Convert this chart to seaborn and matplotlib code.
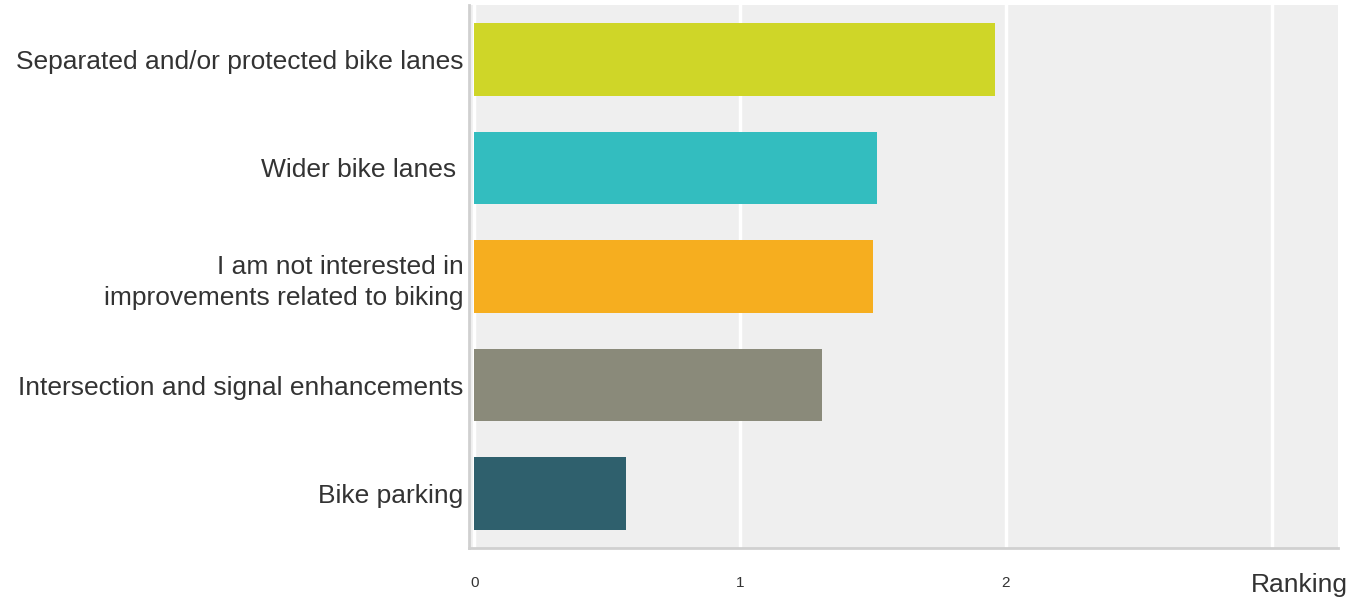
import matplotlib
matplotlib.use("Agg")
import matplotlib.pyplot as plt
import seaborn as sns
import pandas as pd

categories = [
    "Separated and/or protected bike lanes",
    "Wider bike lanes ",
    "I am not interested in\nimprovements related to biking",
    "Intersection and signal enhancements",
    "Bike parking",
]
values = [1.96, 1.515, 1.50, 1.31, 0.57]
colors = ["#cfd628", "#33bdbf", "#f6ae1f", "#8a8a7a", "#2f606d"]
xticks = [0, 1, 2]
xlabel = "Ranking"

sns.set_theme(style="white")
plt.rcParams["font.family"] = ["Liberation Sans", "DejaVu Sans"]

df = pd.DataFrame({"cat": categories, "val": values})

fig = plt.figure(figsize=(13.62, 5.99), dpi=100)
ax = fig.add_axes([469 / 1362, 1 - 548 / 599, (1338 - 469) / 1362, (548 - 5) / 599])
ax.set_facecolor("#efefef")

sns.barplot(data=df, x="val", y="cat", hue="cat", palette=colors, legend=False,
            width=0.67, ax=ax, saturation=1, orient="h", zorder=3,
            edgecolor="none", linewidth=0)

ax.set_xlim(-0.02, 3.25)
ax.set_ylim(4.5, -0.5)
ax.set_xticks([0, 1, 2, 3])
ax.set_xticklabels([str(t) for t in xticks] + [""])
ax.grid(axis="x", color="white", linewidth=2.5, zorder=0)
ax.set_axisbelow(True)

for s in ["top", "right"]:
    ax.spines[s].set_visible(False)
ax.spines["left"].set_color("#d0d0d0")
ax.spines["left"].set_linewidth(2)
ax.spines["bottom"].set_color("#d0d0d0")
ax.spines["bottom"].set_linewidth(2)

ax.tick_params(axis="x", length=0, labelsize=11, labelcolor="#333333", pad=20)
ax.tick_params(axis="y", length=0, labelsize=19, labelcolor="#333333", pad=4)
for lab in ax.get_yticklabels():
    lab.set_linespacing(1.35)
ax.set_ylabel("")
ax.set_xlabel("")
fig.text(1348 / 1362, 1 - 585 / 599, xlabel, ha="right", va="center",
         fontsize=19, color="#333333")

fig.savefig("out.png", dpi=100)
